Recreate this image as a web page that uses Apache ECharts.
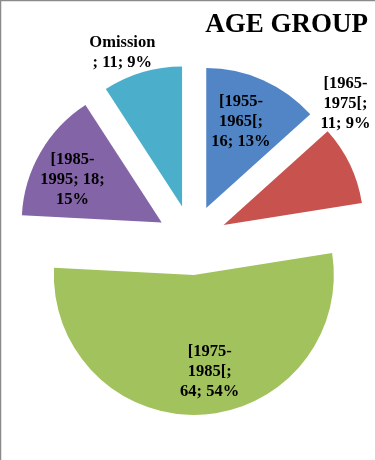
<!DOCTYPE html>
<html>
<head>
<meta charset="utf-8">
<script src="https://cdn.jsdelivr.net/npm/echarts@6/dist/echarts.min.js"></script>
<style>html,body{margin:0;padding:0;background:#fff}#c{width:375px;height:460px}</style>
</head>
<body>
<div id="c"></div>
<script>
// Data
var categories = ['[1955-\n1965[', '[1965-\n1975[', '[1975-\n1985[', '[1985-\n1995', 'Omission\n'];
var values = [16, 11, 64, 18, 11];
var percents = [13, 9, 54, 15, 9];
var title = 'AGE GROUP';

var colors = ['#5285C6', '#C8524E', '#A2C25D', '#8364A6', '#4BAFCB'];
// label placement tweaks (style only), relative to default inside position
var labelOffsets = [[5, -20], [56, -90], [12, 24], [-26, -6], [-39, -84]];

function labelText(i) {
  if (i === 3) {
    return categories[i] + '; ' + values[i] + ';\n' + percents[i] + '%';
  }
  if (i === 4) {
    return categories[i] + '; ' + values[i] + '; ' + percents[i] + '%';
  }
  return categories[i] + ';\n' + values[i] + '; ' + percents[i] + '%';
}

var chart = echarts.init(document.getElementById('c'), null, {renderer: 'canvas'});
var data = categories.map(function (c, i) {
  return {
    name: c,
    value: values[i],
    selected: true,
    itemStyle: {color: colors[i]},
    label: {formatter: labelText(i)}
  };
});
chart.setOption({
  animation: false,
  title: {
    text: title, right: 2, top: 7,
    textStyle: {fontFamily: 'Liberation Serif', fontWeight: 'bold', fontSize: 27, color: '#000'}
  },
  graphic: [
    {type: 'line', shape: {x1: 0.5, y1: 0, x2: 0.5, y2: 460}, style: {stroke: '#8a8a8a', lineWidth: 1.5}},
    {type: 'line', shape: {x1: 0, y1: 0.5, x2: 375, y2: 0.5}, style: {stroke: '#8a8a8a', lineWidth: 1.5}}
  ],
  series: [{
    type: 'pie',
    center: [192, 240],
    radius: 140,
    startAngle: 90,
    clockwise: true,
    selectedMode: 'multiple',
    selectedOffset: 35,
    avoidLabelOverlap: false,
    emphasis: {disabled: true},
    label: {
      position: 'inside',
      fontFamily: 'Liberation Serif',
      fontWeight: 'bold',
      fontSize: 16.5,
      lineHeight: 20,
      color: '#000',
      align: 'center'
    },
    labelLine: {show: false},
    labelLayout: function (p) {
      var o = labelOffsets[p.dataIndex];
      return {dx: o[0], dy: o[1]};
    },
    data: data
  }]
});
</script>
</body>
</html>
